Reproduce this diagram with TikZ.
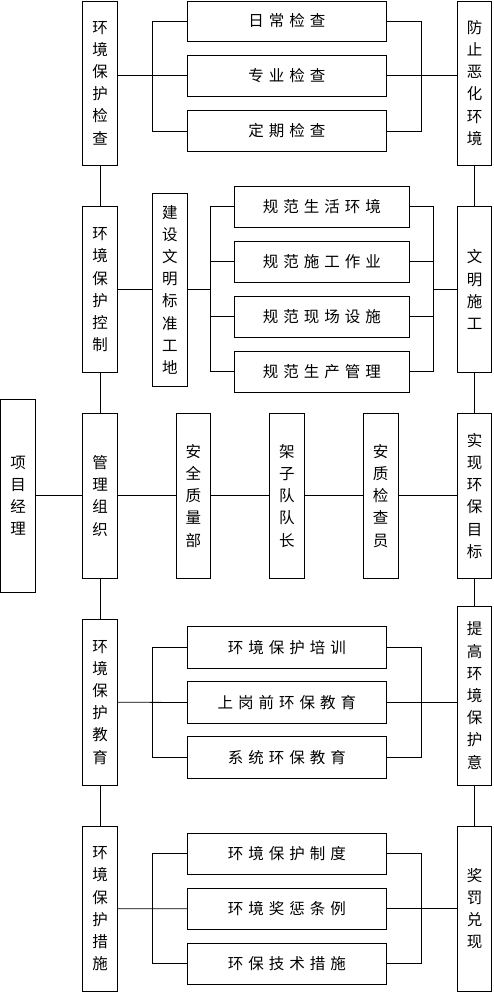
\documentclass[tikz,border=0pt]{standalone}
\usepackage{fontspec}
\newfontfamily\cjk{Noto Sans CJK SC}
\newcommand{\gp}{\hspace{5pt}}
\tikzset{
  box/.style={draw, line width=0.9pt, inner sep=0pt, align=center,
    font=\cjk\fontsize{15.5}{22.2}\selectfont},
  col/.style={box, minimum width=34.5pt},
  wide/.style={box, minimum width=199pt, minimum height=41pt},
  gui/.style={box, minimum width=175pt, minimum height=41pt},
  conn/.style={line width=0.8pt}
}
\begin{document}
\begin{tikzpicture}[x=1pt,y=-1pt]
\useasboundingbox (0,0) rectangle (493,993);
% left column
\node[col, minimum height=164pt] (L1) at (100,83) {环\\境\\保\\护\\检\\查};
\node[col, minimum height=166pt] (L2) at (100,289.7) {环\\境\\保\\护\\控\\制};
\node[col, minimum height=165pt] (L3) at (100,495.8) {管\\理\\组\\织};
\node[col, minimum height=165.7pt] (L4) at (100,702.2) {环\\境\\保\\护\\教\\育};
\node[col, minimum height=165.3pt] (L5) at (100,908.7) {环\\境\\保\\护\\措\\施};
% right column
\node[col, minimum height=164pt] (R1) at (474.5,83) {防\\止\\恶\\化\\环\\境};
\node[col, minimum height=166pt] (R2) at (474.5,289.7) {文\\明\\施\\工};
\node[col, minimum height=165pt] (R3) at (474.5,495.8) {实\\现\\环\\保\\目\\标};
\node[col, minimum height=179pt] (R4) at (474.5,695.5) {提\\高\\环\\境\\保\\护\\意};
\node[col, minimum height=165.3pt] (R5) at (474.5,908.7) {奖\\罚\\兑\\现};
% group 1
\node[wide, minimum height=40pt] (A1) at (286.8,21) {日\gp 常\gp 检\gp 查};
\node[wide] (A2) at (286.8,75.8) {专\gp 业\gp 检\gp 查};
\node[wide] (A3) at (286.8,131) {定\gp 期\gp 检\gp 查};
% group 2
\node[col, minimum height=192.7pt] (B0) at (169.8,289.7) {建\\设\\文\\明\\标\\准\\工\\地};
\node[gui] (B1) at (321.8,206.7) {规\gp 范\gp 生\gp 活\gp 环\gp 境};
\node[gui] (B2) at (321.8,261.8) {规\gp 范\gp 施\gp 工\gp 作\gp 业};
\node[gui] (B3) at (321.8,316.8) {规\gp 范\gp 现\gp 场\gp 设\gp 施};
\node[gui] (B4) at (321.8,371.8) {规\gp 范\gp 生\gp 产\gp 管\gp 理};
% row 3
\node[col, minimum height=193pt] (P) at (18,495.8) {项\\目\\经\\理};
\node[col, minimum height=165pt] (C1) at (193.3,495.8) {安\\全\\质\\量\\部};
\node[col, minimum height=165pt] (C2) at (286.8,495.8) {架\\子\\队\\队\\长};
\node[col, minimum height=165pt] (C3) at (380.7,495.8) {安\\质\\检\\查\\员};
% group 4
\node[wide, minimum height=41.6pt] (D1) at (286.8,647.5) {环\gp 境\gp 保\gp 护\gp 培\gp 训};
\node[wide, minimum height=41.6pt] (D2) at (286.8,702.5) {上\gp 岗\gp 前\gp 环\gp 保\gp 教\gp 育};
\node[wide, minimum height=41.6pt] (D3) at (286.8,757.5) {系\gp 统\gp 环\gp 保\gp 教\gp 育};
% group 5
\node[wide, minimum height=40.7pt] (E1) at (286.8,853.7) {环\gp 境\gp 保\gp 护\gp 制\gp 度};
\node[wide, minimum height=40.7pt] (E2) at (286.8,908.8) {环\gp 境\gp 奖\gp 惩\gp 条\gp 例};
\node[wide, minimum height=40.7pt] (E3) at (286.8,963.7) {环\gp 保\gp 技\gp 术\gp 措\gp 施};
% bracket coordinates
\coordinate (bl) at (152.3,0);
\coordinate (br) at (421.3,0);
\coordinate (bl2) at (210.3,0);
\coordinate (br2) at (433.3,0);
\begin{scope}[conn]
% vertical spines
\draw (L1.south) -- (L2.north);
\draw (L2.south) -- (L3.north);
\draw (L3.south) -- (L4.north);
\draw (L4.south) -- (L5.north);
\draw (R1.south) -- (R2.north);
\draw (R2.south) -- (R3.north);
\draw (R3.south) -- (R4.north);
\draw (R4.south) -- (R5.north);
% group 1
\draw (A2.west -| L1.east) -- (A2.west);
\draw (A1.west) -| (bl |- A3.west) -- (A3.west);
\draw (A1.east) -| (br |- A3.east) -- (A3.east);
\draw (A2.east) -- (A2.east -| R1.west);
% group 2
\draw (L2.east) -- (B0.west);
\draw (B0.east) -- (B0.east -| bl2);
\draw (B1.west) -| (bl2 |- B4.west) -- (B4.west);
\draw (B2.west) -- (B2.west -| bl2);
\draw (B3.west) -- (B3.west -| bl2);
\draw (B1.east) -| (br2 |- B4.east) -- (B4.east);
\draw (B2.east) -- (B2.east -| br2);
\draw (B3.east) -- (B3.east -| br2);
\draw (R2.west -| br2) -- (R2.west);
% row 3
\draw (P.east) -- (L3.west);
\draw (L3.east) -- (C1.west);
\draw (C1.east) -- (C2.west);
\draw (C2.east) -- (C3.west);
\draw (C3.east) -- (R3.west);
% group 4
\draw (L4.east) -- (D2.west);
\draw (D1.west) -| (bl |- D3.west) -- (D3.west);
\draw (D1.east) -| (br |- D3.east) -- (D3.east);
\draw (D2.east) -- (D2.east -| R4.west);
% group 5
\draw (L5.east) -- (E2.west);
\draw (E1.west) -| (bl |- E3.west) -- (E3.west);
\draw (E1.east) -| (br |- E3.east) -- (E3.east);
\draw (E2.east) -- (E2.east -| R5.west);
\end{scope}
\end{tikzpicture}
\end{document}
